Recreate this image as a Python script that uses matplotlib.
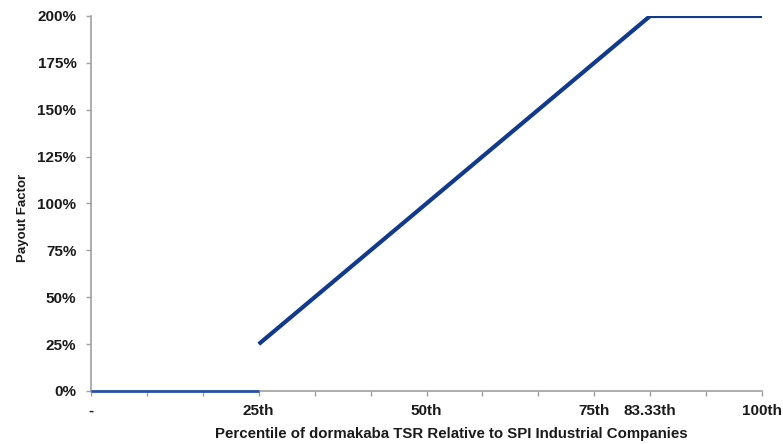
import numpy as np
import matplotlib
matplotlib.use("Agg")
import matplotlib.pyplot as plt

plt.rcParams['font.family'] = ['Liberation Sans', 'DejaVu Sans']

# payout curve
floor_x = [0, 25]
floor_y = [0, 0]
curve_x = [25, 83.33, 100]
curve_y = [25, 200, 200]

xtick_pos = np.arange(13) * 100 / 12
xtick_labels = ["-", "", "", "25th", "", "", "50th", "", "", "75th", "83.33th", "", "100th"]
ytick_pos = [0, 25, 50, 75, 100, 125, 150, 175, 200]

fig = plt.figure(figsize=(7.83, 4.44), dpi=100)
ax = fig.add_axes([0.1162, 0.1194, 0.857, 0.8446])

navy = "#123a8c"
ax.plot(floor_x, floor_y, color="#2a52a8", lw=2.0, solid_capstyle="butt", zorder=3, clip_on=False)
ax.plot(curve_x, curve_y, color=navy, lw=3.0, solid_capstyle="butt", solid_joinstyle="miter", zorder=3)

ax.set_xlim(0, 100)
ax.set_ylim(0, 200)
ax.set_xticks(xtick_pos)
ax.set_xticklabels(xtick_labels)
ax.set_yticks(ytick_pos)
ax.set_yticklabels([f"{v}%" for v in ytick_pos])

for s in ["top", "right"]:
    ax.spines[s].set_visible(False)
for s in ["left", "bottom"]:
    ax.spines[s].set_color("#a0a0a0")
    ax.spines[s].set_linewidth(1.2)

ax.tick_params(axis="both", colors="#a0a0a0", length=3.5, width=1.0, direction="out")
ax.tick_params(axis="both", labelcolor="#1a1a1a", labelsize=11)
for lab in ax.get_xticklabels() + ax.get_yticklabels():
    lab.set_fontweight("bold")
ax.tick_params(axis="x", pad=6)
ax.tick_params(axis="y", pad=7)

ax.set_xlabel("Percentile of dormakaba TSR Relative to SPI Industrial Companies",
              fontsize=10.8, fontweight="bold", color="#1a1a1a", labelpad=6)
ax.set_ylabel("Payout Factor", fontsize=9.5, fontweight="bold", color="#1a1a1a", labelpad=6)
# labels sit a bit off-centre in the original
ax.xaxis.label.set_x(0.5365)
ax.yaxis.label.set_y(0.461)

fig.savefig("out.png", dpi=100)
